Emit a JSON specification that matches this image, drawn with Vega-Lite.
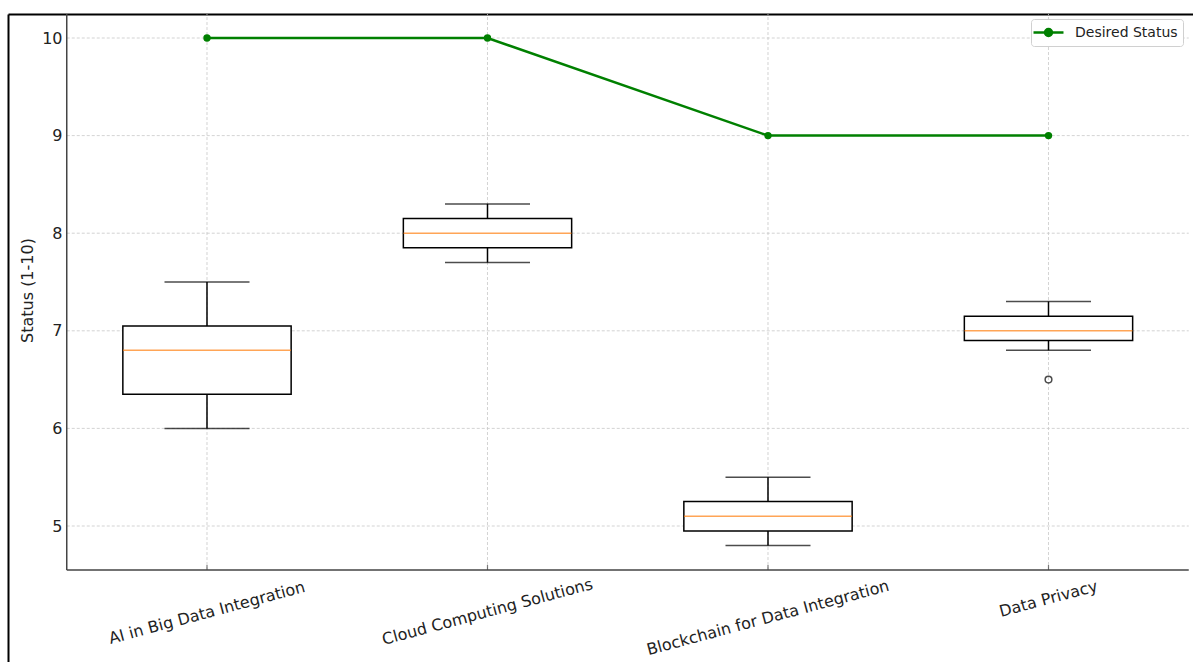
{
  "$schema": "https://vega.github.io/schema/vega-lite/v6.json",
  "width": 1185,
  "height": 648,
  "autosize": {"type": "none"},
  "padding": {"left": 8, "top": 14, "right": 0, "bottom": 0},
  "background": "white",
  "config": {"view": {"stroke": null}, "font": "DejaVu Sans"},
  "datasets": {
    "boxes": [
      {"topic": "AI in Big Data Integration", "lower": 6.0, "q1": 6.35, "median": 6.8, "q3": 7.05, "upper": 7.5, "desired": 10},
      {"topic": "Cloud Computing Solutions", "lower": 7.7, "q1": 7.85, "median": 8.0, "q3": 8.15, "upper": 8.3, "desired": 10},
      {"topic": "Blockchain for Data Integration", "lower": 4.8, "q1": 4.95, "median": 5.1, "q3": 5.25, "upper": 5.5, "desired": 9},
      {"topic": "Data Privacy", "lower": 6.8, "q1": 6.9, "median": 7.0, "q3": 7.15, "upper": 7.3, "desired": 9}
    ],
    "outliers": [{"topic": "Data Privacy", "value": 6.5}],
    "grid": [{"v": 5}, {"v": 6}, {"v": 7}, {"v": 8}, {"v": 9}, {"v": 10}],
    "one": [{"k": 1}]
  },
  "layer": [
    {
      "data": {"name": "grid"},
      "mark": {"type": "rule", "color": "#c8c8c8", "strokeWidth": 0.8, "strokeDash": [3, 2]},
      "encoding": {
        "y": {"field": "v", "type": "quantitative",
              "scale": {"domain": [3.6066, 10.2459], "nice": false, "zero": false},
              "axis": {"orient": "left", "title": "Status (1-10)", "values": [5, 6, 7, 8, 9, 10], "format": "d", "grid": false, "ticks": false,
                       "domain": true, "domainColor": "#000000", "domainWidth": 2, "labelPadding": -54, "labelAlign": "right",
                       "labelBaseline": "middle", "labelFontSize": 16, "labelColor": "#222222", "labelFont": "DejaVu Sans",
                       "labelFlush": false, "labelOverlap": false,
                       "titleFont": "DejaVu Sans", "titleFontSize": 16, "titleFontWeight": "normal", "titleColor": "#222222",
                       "titleX": 19, "titleY": 276, "titleAngle": -90, "titleAlign": "center", "titleBaseline": "middle"}},
        "x": {"datum": "AI in Big Data Integration", "type": "nominal", "bandPosition": 0,
              "scale": {"type": "band", "domain": ["AI in Big Data Integration", "Cloud Computing Solutions", "Blockchain for Data Integration", "Data Privacy"], "paddingInner": 0, "paddingOuter": 0.1123, "align": 0.9325},
              "axis": {"orient": "top", "title": null, "grid": false, "ticks": false, "labels": false, "domain": true, "domainColor": "#000000", "domainWidth": 2}},
        "x2": {"datum": "Data Privacy", "bandPosition": 1}
      }
    },
    {
      "data": {"name": "boxes"},
      "mark": {"type": "rule", "color": "#c8c8c8", "strokeWidth": 0.8, "strokeDash": [3, 2]},
      "encoding": {
        "x": {"field": "topic", "type": "nominal"},
        "y": {"datum": 4.549, "type": "quantitative"},
        "y2": {"datum": 10.2459}
      }
    },
    {
      "data": {"name": "boxes"},
      "mark": {"type": "tick", "orient": "vertical", "color": "#444444", "size": 5, "thickness": 1.2},
      "encoding": {
        "x": {"field": "topic", "type": "nominal"},
        "y": {"datum": 4.5746, "type": "quantitative"}
      }
    },
    {
      "data": {"name": "one"},
      "mark": {"type": "rule", "color": "#444444", "strokeWidth": 1.5},
      "encoding": {
        "x": {"datum": "AI in Big Data Integration", "type": "nominal", "bandPosition": 0},
        "y": {"datum": 4.549, "type": "quantitative"},
        "y2": {"datum": 10.2459}
      }
    },
    {
      "data": {"name": "one"},
      "mark": {"type": "rule", "color": "#444444", "strokeWidth": 1.5},
      "encoding": {
        "y": {"datum": 4.549, "type": "quantitative"},
        "x": {"datum": "AI in Big Data Integration", "type": "nominal", "bandPosition": 0},
        "x2": {"datum": "Data Privacy", "bandPosition": 1}
      }
    },
    {
      "data": {"name": "boxes"},
      "mark": {"type": "text", "angle": 345, "align": "center", "baseline": "middle", "fontSize": 16, "font": "DejaVu Sans", "color": "#222222",
               "dx": {"expr": "-0.2588 * (17 + length(datum.topic))"}, "dy": {"expr": "0.9659 * (17 + length(datum.topic))"}},
      "encoding": {
        "x": {"field": "topic", "type": "nominal"},
        "y": {"datum": 4.549, "type": "quantitative"},
        "text": {"field": "topic"}
      }
    },
    {
      "data": {"name": "boxes"},
      "mark": {"type": "rule", "color": "#000000", "strokeWidth": 1.5},
      "encoding": {
        "x": {"field": "topic", "type": "nominal"},
        "y": {"field": "lower", "type": "quantitative"},
        "y2": {"field": "upper"}
      }
    },
    {
      "data": {"name": "boxes"},
      "mark": {"type": "bar", "fill": "white", "stroke": "#000000", "strokeWidth": 1.5, "width": {"band": 0.6}},
      "encoding": {
        "x": {"field": "topic", "type": "nominal"},
        "y": {"field": "q1", "type": "quantitative"},
        "y2": {"field": "q3"}
      }
    },
    {
      "data": {"name": "boxes"},
      "mark": {"type": "tick", "color": "#ff7f0e", "size": 168, "thickness": 1.5},
      "encoding": {
        "x": {"field": "topic", "type": "nominal"},
        "y": {"field": "median", "type": "quantitative"}
      }
    },
    {
      "data": {"name": "boxes"},
      "mark": {"type": "tick", "color": "#000000", "size": 85, "thickness": 1.5},
      "encoding": {
        "x": {"field": "topic", "type": "nominal"},
        "y": {"field": "lower", "type": "quantitative"}
      }
    },
    {
      "data": {"name": "boxes"},
      "mark": {"type": "tick", "color": "#000000", "size": 85, "thickness": 1.5},
      "encoding": {
        "x": {"field": "topic", "type": "nominal"},
        "y": {"field": "upper", "type": "quantitative"}
      }
    },
    {
      "data": {"name": "outliers"},
      "mark": {"type": "point", "shape": "circle", "filled": false, "stroke": "#000000", "strokeWidth": 1.5, "size": 45},
      "encoding": {
        "x": {"field": "topic", "type": "nominal"},
        "y": {"field": "value", "type": "quantitative"}
      }
    },
    {
      "data": {"name": "boxes"},
      "mark": {"type": "line", "strokeWidth": 2.5, "point": {"filled": true, "size": 55}},
      "encoding": {
        "x": {"field": "topic", "type": "nominal"},
        "y": {"field": "desired", "type": "quantitative"},
        "color": {"datum": "Desired Status", "type": "nominal", "scale": {"range": ["#008000"]},
                  "legend": {"title": null, "orient": "none", "legendX": 1023, "legendY": 5,
                             "symbolType": "M-1.571,0H2.714M0.071,0A0.5,0.5,0,1,0,1.071,0A0.5,0.5,0,1,0,0.071,0Z",
                             "symbolSize": 196, "symbolStrokeWidth": 2.5, "symbolFillColor": "#008000", "symbolStrokeColor": "#008000",
                             "labelFontSize": 14, "labelFont": "DejaVu Sans", "labelColor": "#222222", "labelOffset": 22,
                             "padding": 5, "strokeColor": "#d0d0d0", "fillColor": "#ffffff", "cornerRadius": 3}}
      }
    }
  ]
}
